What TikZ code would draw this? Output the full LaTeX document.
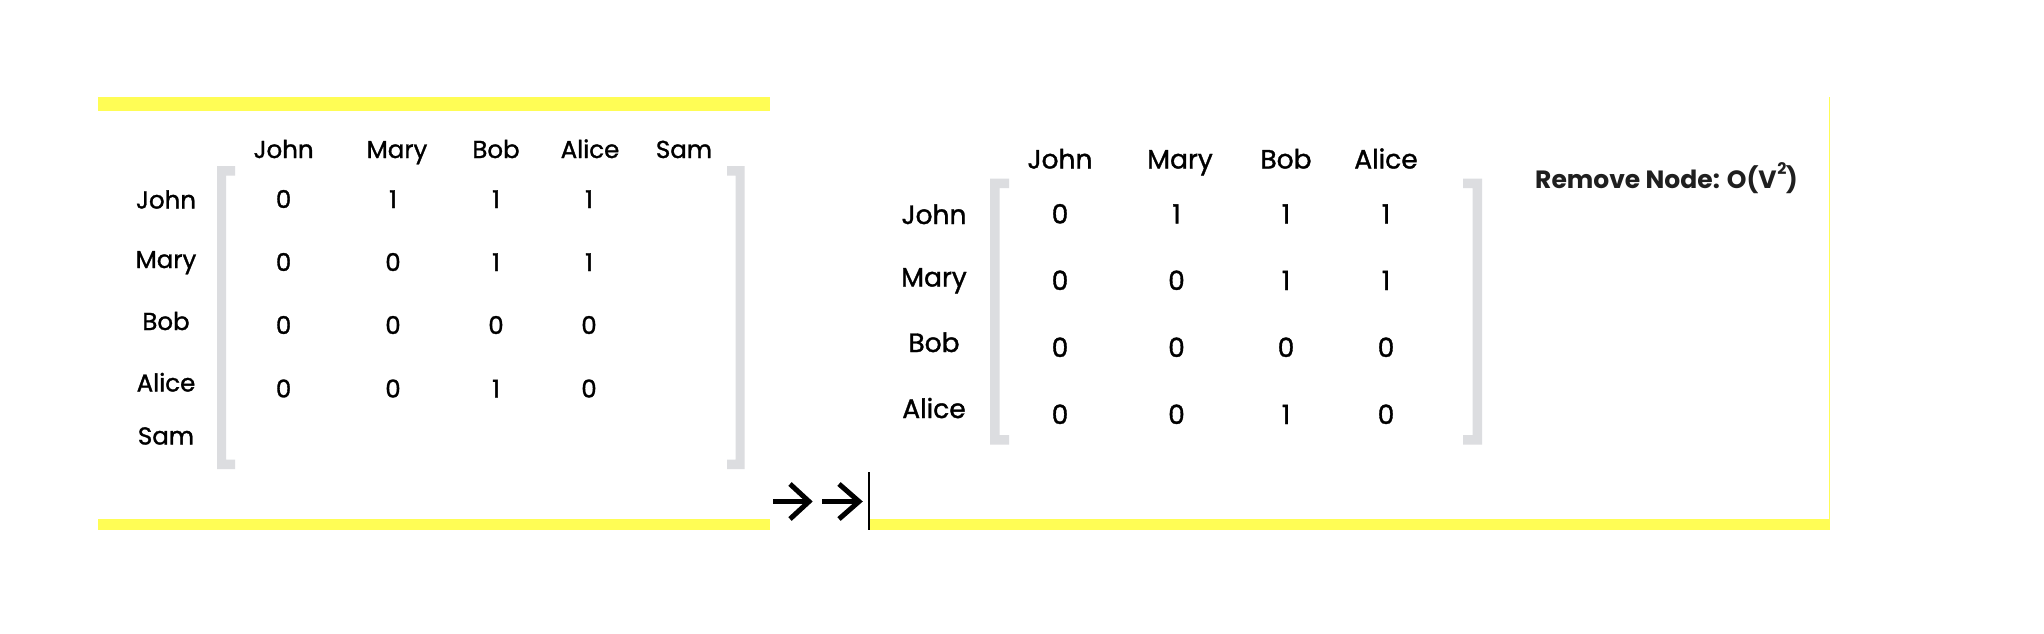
\documentclass[tikz,border=0pt]{standalone}
\usepackage{fontspec}
\setmainfont{Poppins}
\newfontfamily\labfont{Poppins}[FakeBold=1.3]
\definecolor{ybar}{RGB}{255,253,85}
\definecolor{bgray}{RGB}{220,221,224}
\begin{document}
\begin{tikzpicture}[x=1pt,y=-1pt,
  lbl/.style={anchor=base,inner sep=0pt,font=\labfont\fontsize{24.5}{24.5}\selectfont},
  rlbl/.style={anchor=base,inner sep=0pt,font=\labfont\fontsize{26.5}{26.5}\selectfont},
  bar/.style={fill=ybar,draw=none},
  brk/.style={fill=bgray,draw=none},
  arr/.style={line width=5pt,line join=miter,line cap=butt}]
\useasboundingbox (0,0) rectangle (2044,634);
\fill[white] (0,0) rectangle (2044,634);
% yellow bars
\fill[bar] (98,97) rectangle (770,111);
\fill[bar] (98,519) rectangle (770,530);
\fill[bar] (870,519) rectangle (1830,530);
\fill[bar] (1828.8,97) rectangle (1830.3,530);
% brackets left matrix
\fill[brk] (217,166) -- (235,166) -- (235,175.5) -- (226,175.5) -- (226,459.5) -- (235,459.5) -- (235,469) -- (217,469) -- cycle;
\fill[brk] (744.5,166) -- (727,166) -- (727,175.5) -- (735.5,175.5) -- (735.5,459.5) -- (727,459.5) -- (727,469) -- (744.5,469) -- cycle;
% brackets right matrix
\fill[brk] (990,178.5) -- (1009,178.5) -- (1009,188) -- (999.5,188) -- (999.5,435) -- (1009,435) -- (1009,444.5) -- (990,444.5) -- cycle;
\fill[brk] (1482,178.5) -- (1463,178.5) -- (1463,188) -- (1472.5,188) -- (1472.5,435) -- (1463,435) -- (1463,444.5) -- (1482,444.5) -- cycle;
% left matrix headers
\node[lbl] (lh1) at (283.6,158) {John};
\node[lbl] (lh2) at (397,158) {Mary};
\node[lbl] (lh3) at (496,158) {Bob};
\node[lbl] (lh4) at (590,158) {Alice};
\node[lbl] (lh5) at (684,158) {Sam};
% left row labels
\node[lbl] (lr1) at (166,208.5) {John};
\node[lbl] (lr2) at (166,268) {Mary};
\node[lbl] (lr3) at (166,330) {Bob};
\node[lbl] (lr4) at (166,391.5) {Alice};
\node[lbl] (lr5) at (166,444.5) {Sam};
% left entries
\node[lbl] (l11) at (283.6,208) {0};
\node[lbl] (l12) at (393,208) {1};
\node[lbl] (l13) at (496,208) {1};
\node[lbl] (l14) at (589,208) {1};
\node[lbl] (l21) at (283.6,271) {0};
\node[lbl] (l22) at (393,271) {0};
\node[lbl] (l23) at (496,271) {1};
\node[lbl] (l24) at (589,271) {1};
\node[lbl] (l31) at (283.6,334) {0};
\node[lbl] (l32) at (393,334) {0};
\node[lbl] (l33) at (496,334) {0};
\node[lbl] (l34) at (589,334) {0};
\node[lbl] (l41) at (283.6,397.5) {0};
\node[lbl] (l42) at (393,397.5) {0};
\node[lbl] (l43) at (496,397.5) {1};
\node[lbl] (l44) at (589,397.5) {0};
% right matrix headers
\node[rlbl] (rh1) at (1060,168.5) {John};
\node[rlbl] (rh2) at (1180,168.5) {Mary};
\node[rlbl] (rh3) at (1286,168.5) {Bob};
\node[rlbl] (rh4) at (1386,168.5) {Alice};
% right row labels
\node[rlbl] (rr1) at (934,224) {John};
\node[rlbl] (rr2) at (934,286.5) {Mary};
\node[rlbl] (rr3) at (934,352) {Bob};
\node[rlbl] (rr4) at (934,418) {Alice};
% right entries
\node[rlbl] (r11) at (1060,223.5) {0};
\node[rlbl] (r12) at (1176.5,223.5) {1};
\node[rlbl] (r13) at (1286,223.5) {1};
\node[rlbl] (r14) at (1386,223.5) {1};
\node[rlbl] (r21) at (1060,290) {0};
\node[rlbl] (r22) at (1176.5,290) {0};
\node[rlbl] (r23) at (1286,290) {1};
\node[rlbl] (r24) at (1386,290) {1};
\node[rlbl] (r31) at (1060,357) {0};
\node[rlbl] (r32) at (1176.5,357) {0};
\node[rlbl] (r33) at (1286,357) {0};
\node[rlbl] (r34) at (1386,357) {0};
\node[rlbl] (r41) at (1060,424) {0};
\node[rlbl] (r42) at (1176.5,424) {0};
\node[rlbl] (r43) at (1286,424) {1};
\node[rlbl] (r44) at (1386,424) {0};
% complexity label
\node[anchor=base west,inner sep=0pt,font=\fontsize{25}{25}\selectfont\bfseries,text=black!88] (cx) at (1535,188)
  {Remove Node: O(V\kern0.5pt\raisebox{14pt}{\fontsize{16}{16}\selectfont 2}\kern-0.5pt)};
% arrows
\draw[arr] (773,501.5) -- (810,501.5);
\draw[arr] (790,484) -- (809,501.5) -- (790,519);
\draw[arr] (822,501.5) -- (860,501.5);
\draw[arr] (839,484) -- (859,501.5) -- (839,519);
% cursor line
\draw[line width=2pt] (868.5,472) -- (868.5,530);
\end{tikzpicture}
\end{document}
